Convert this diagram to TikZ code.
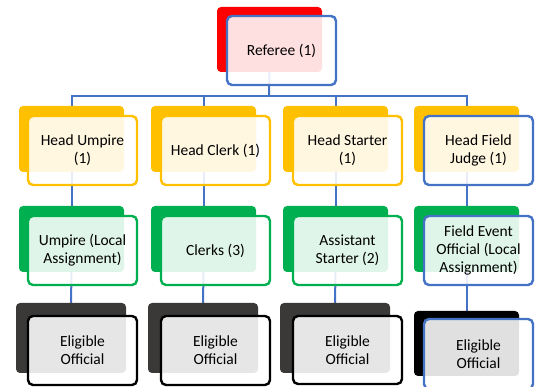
\documentclass[tikz,border=0pt]{standalone}
\usepackage{fontspec}
\setmainfont{Carlito}
\usetikzlibrary{positioning}
\pgfdeclarelayer{background}
\pgfsetlayers{background,main}
\definecolor{oblue}{HTML}{4472C4}
\definecolor{ored}{HTML}{FF0000}
\definecolor{oyellow}{HTML}{FFC000}
\definecolor{ogreen}{HTML}{00B050}
\definecolor{odark}{HTML}{3B3838}
\tikzset{
  backbox/.style={rectangle, rounded corners=4pt, inner sep=0pt, outer sep=0pt, anchor=north west, draw=none},
  frontbox/.style={rectangle, rounded corners=5pt, inner sep=0pt, outer sep=0pt, anchor=north west,
     fill=white, fill opacity=0.88, text opacity=1, line width=2.4pt, align=center,
     font=\fontsize{15.5}{18}\selectfont, text=black},
  conn/.style={draw=oblue, line width=2pt},
}
\begin{document}
\begin{tikzpicture}[x=1pt,y=-1pt]
\useasboundingbox (0,0) rectangle (539,387);
\begin{scope}
\clip (0,0) rectangle (539,387);
% Referee
\node[backbox, fill=ored, minimum width=105pt, minimum height=65pt] (ref-b) at (217,7) {};
\node[frontbox, draw=oblue, minimum width=109pt, minimum height=69pt] (ref) at (227,16) {Referee (1)};
% heads
\node[backbox, fill=oyellow, minimum width=105pt, minimum height=66pt] (hu-b) at (19,106) {};
\node[frontbox, draw=oyellow, minimum width=109pt, minimum height=69pt] (hu) at (28,116) {Head Umpire\\(1)};
\node[backbox, fill=oyellow, minimum width=105pt, minimum height=66pt] (hc-b) at (151,106) {};
\node[frontbox, draw=oyellow, minimum width=109pt, minimum height=69pt] (hc) at (161,116) {Head Clerk (1)};
\node[backbox, fill=oyellow, minimum width=105pt, minimum height=66pt] (hs-b) at (283,106) {};
\node[frontbox, draw=oyellow, minimum width=109pt, minimum height=69pt] (hs) at (293,116) {Head Starter\\(1)};
\node[backbox, fill=oyellow, minimum width=105pt, minimum height=66pt] (hf-b) at (414,106) {};
\node[frontbox, draw=oblue, minimum width=109pt, minimum height=69pt] (hf) at (424,116) {Head Field\\Judge (1)};
% second row
\node[backbox, fill=ogreen, minimum width=105pt, minimum height=66pt] (um-b) at (19,206) {};
\node[frontbox, draw=ogreen, minimum width=109pt, minimum height=69pt] (um) at (28,216) {Umpire (Local\\Assignment)};
\node[backbox, fill=ogreen, minimum width=105pt, minimum height=66pt] (cl-b) at (151,206) {};
\node[frontbox, draw=ogreen, minimum width=109pt, minimum height=69pt] (cl) at (161,216) {Clerks (3)};
\node[backbox, fill=ogreen, minimum width=105pt, minimum height=66pt] (as-b) at (283,206) {};
\node[frontbox, draw=ogreen, minimum width=109pt, minimum height=69pt] (as) at (293,216) {Assistant\\Starter (2)};
\node[backbox, fill=ogreen, minimum width=105pt, minimum height=66pt] (fe-b) at (414,206) {};
\node[frontbox, draw=oblue, minimum width=109pt, minimum height=69pt] (fe) at (424,216) {Field Event\\Official (Local\\Assignment)};
% eligible row
\node[backbox, fill=odark, minimum width=110pt, minimum height=70pt] (e1-b) at (16,303) {};
\node[frontbox, draw=black, minimum width=109pt, minimum height=69pt] (e1) at (28,316) {Eligible\\Official};
\node[backbox, fill=odark, minimum width=110pt, minimum height=70pt] (e2-b) at (148,303) {};
\node[frontbox, draw=black, minimum width=109pt, minimum height=69pt] (e2) at (161,316) {Eligible\\Official};
\node[backbox, fill=odark, minimum width=110pt, minimum height=70pt] (e3-b) at (280,303) {};
\node[frontbox, draw=black, minimum width=109pt, minimum height=68pt] (e3) at (293,316) {Eligible\\Official};
\node[backbox, fill=black, minimum width=105pt, minimum height=65pt] (e4-b) at (414,311) {};
\node[frontbox, draw=oblue, minimum width=109pt, minimum height=70pt] (e4) at (424,319) {Eligible\\Official};
\end{scope}
\coordinate (bus) at (269,96);
\begin{pgfonlayer}{background}
\draw[conn] (ref-b.south) -- (bus);
\draw[conn] (bus) -| (hu-b.north);
\draw[conn] (bus) -| (hc-b.north);
\draw[conn] (bus) -| (hs-b.north);
\draw[conn] (bus) -| (hf-b.north);
\draw[conn] (hu-b.south) -- (um-b.north);
\draw[conn] (hc-b.south) -- (cl-b.north);
\draw[conn] (hs-b.south) -- (as-b.north);
\draw[conn] (hf-b.south) -- (fe-b.north);
\draw[conn] (um-b.south) -- (e1-b.north);
\draw[conn] (cl-b.south) -- (e2-b.north);
\draw[conn] (as-b.south) -- (e3-b.north);
\draw[conn] (fe-b.south) -- (e4-b.north);
\end{pgfonlayer}
\end{tikzpicture}
\end{document}
